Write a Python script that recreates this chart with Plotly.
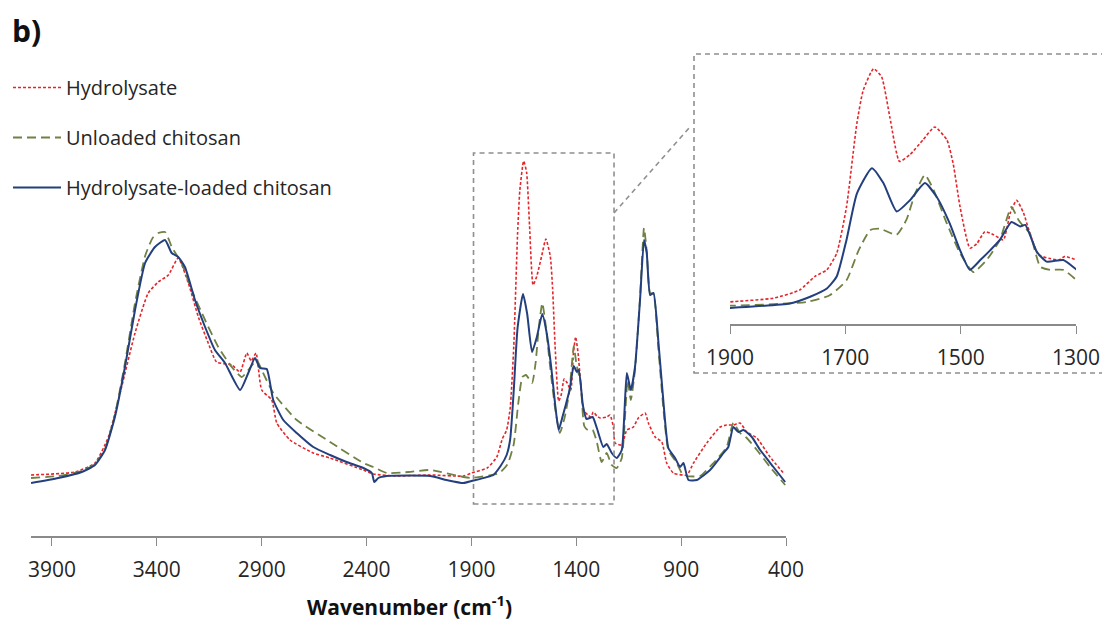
import plotly.graph_objects as go

# ---- data (wavenumber cm-1, absorbance in arbitrary units) ----
wn_hyd = [4000, 3790, 3695, 3631, 3568, 3504, 3441, 3393, 3345, 3298, 3250, 3202, 3155, 3115,
          3043, 3003, 2971, 2950, 2927, 2900, 2852, 2828, 2765, 2654, 2574, 2415, 2368, 2256,
          2097, 1938, 1900, 1825, 1779, 1753, 1732, 1715, 1698, 1680, 1669, 1651, 1637, 1623,
          1606, 1588, 1565, 1545, 1524, 1513, 1501, 1484, 1472, 1458, 1443, 1426, 1414, 1403,
          1391, 1380, 1365, 1345, 1330, 1319, 1302, 1287, 1255, 1239, 1223, 1215, 1183, 1159,
          1128, 1104, 1072, 1056, 1024, 992, 969, 937, 873, 841, 778, 714, 683, 651, 619, 587,
          539, 476, 412]
abs_hyd = [81, 84, 93, 119, 169, 223, 263, 274, 281, 298, 273, 239, 213, 194,
           191, 184, 203, 195, 203, 166, 156, 133, 116, 103, 98, 86, 82, 80,
           81, 80, 83, 88, 99, 117, 126, 148, 210, 322, 366, 395, 384, 331,
           271, 280, 300, 317, 300, 268, 210, 155, 161, 177, 173, 166, 202, 219,
           202, 175, 146, 141, 139, 144, 140, 138, 139, 141, 129, 113, 111, 126,
           129, 138, 143, 133, 119, 114, 93, 83, 81, 93, 113, 129, 131, 131, 133, 124,
           118, 99, 83]

wn_unl = [4000, 3870, 3758, 3695, 3647, 3600, 3552, 3504, 3456, 3420, 3393, 3361, 3340, 3329,
          3282, 3234, 3170, 3107, 3043, 2995, 2960, 2924, 2900, 2845, 2733, 2574, 2415, 2368,
          2304, 2200, 2097, 1938, 1900, 1767, 1727, 1698, 1677, 1657, 1640, 1611, 1594, 1579,
          1562, 1547, 1524, 1501, 1478, 1455, 1432, 1412, 1400, 1391, 1380, 1362, 1345, 1322,
          1302, 1279, 1255, 1231, 1207, 1183, 1155, 1140, 1120, 1096, 1077, 1064, 1048, 1032,
          1008, 984, 961, 921, 897, 873, 810, 746, 683, 651, 619, 587, 539, 476, 404]
abs_unl = [78, 80, 85, 92, 107, 141, 193, 253, 300, 318, 323, 324, 315, 309,
           293, 266, 236, 209, 189, 179, 187, 196, 186, 163, 136, 114, 93, 89,
           83, 84, 86, 79, 78, 83, 92, 112, 152, 179, 181, 173, 193, 228,
           253, 233, 188, 148, 123, 139, 166, 210, 193, 184, 175, 130, 126, 126,
           114, 94, 103, 91, 88, 98, 176, 156, 186, 258, 328, 305, 263, 262,
           206, 146, 106, 93, 83, 80, 80, 93, 109, 133, 123, 118, 106, 89, 71]

wn_load = [4000, 3870, 3758, 3695, 3647, 3600, 3552, 3504, 3456, 3409, 3361, 3329, 3298, 3266,
           3218, 3170, 3123, 3075, 3003, 2964, 2932, 2908, 2876, 2845, 2797, 2733, 2654, 2574,
           2495, 2415, 2375, 2363, 2344, 2304, 2097, 2018, 1938, 1900, 1796, 1761, 1732, 1715,
           1698, 1680, 1654, 1634, 1611, 1588, 1562, 1542, 1519, 1501, 1484, 1466, 1449, 1432,
           1412, 1397, 1388, 1368, 1351, 1322, 1302, 1271, 1255, 1231, 1207, 1183, 1159, 1140,
           1120, 1096, 1077, 1064, 1048, 1032, 1008, 984, 961, 929, 905, 889, 865, 825, 762,
           698, 675, 651, 627, 603, 563, 523, 460, 404]
abs_load = [73, 78, 84, 91, 106, 139, 189, 246, 293, 309, 316, 303, 299, 289,
            256, 229, 206, 193, 166, 183, 198, 188, 187, 156, 136, 123, 109, 101,
            94, 88, 83, 74, 78, 80, 80, 76, 73, 75, 81, 90, 101, 117,
            166, 228, 262, 242, 204, 219, 242, 224, 188, 152, 126, 139, 152, 166,
            190, 184, 186, 150, 137, 139, 128, 109, 112, 103, 98, 106, 183, 166,
            189, 256, 316, 303, 261, 263, 213, 153, 108, 98, 89, 93, 76, 76, 86,
            103, 109, 129, 124, 126, 119, 106, 89, 74]

names = ["Hydrolysate", "Unloaded chitosan", "Hydrolysate-loaded chitosan"]
main_ticks = [3900, 3400, 2900, 2400, 1900, 1400, 900, 400]
inset_ticks = [1900, 1700, 1500, 1300]

# ---- styles / layout geometry ----
OFF = 8                      # page body margin of the generated html
W, H = 1110 - OFF, 621 - OFF
FONT = "Open Sans"
styles = [
    dict(color="#e3262b", width=1.6, dash="3px,2px"),
    dict(color="#6f8143", width=1.8, dash="9px,5px"),
    dict(color="#233f7d", width=2.0),
]
series = [(wn_hyd, abs_hyd), (wn_unl, abs_unl), (wn_load, abs_load)]

fig = go.Figure()
for (x, y), nm, st in zip(series, names, styles):
    fig.add_trace(go.Scatter(x=x, y=y, mode="lines", name=nm,
                             line=dict(**st, shape="spline", smoothing=0.5),
                             legendgroup=nm, xaxis="x", yaxis="y"))
for (x, y), nm, st in zip(series, names, styles):
    fig.add_trace(go.Scatter(x=x, y=y, mode="lines", name=nm,
                             line=dict(**st, shape="spline", smoothing=0.5),
                             legendgroup=nm, showlegend=False, xaxis="x2", yaxis="y2"))


def px(v):
    return (v - OFF) / W


def py(v):
    return 1 - (v - OFF) / H


axis_col = "#8a8a8a"
tickfont = dict(family=FONT, size=21, color="#262626")

fig.update_layout(
    width=W, height=H,
    margin=dict(l=0, r=0, t=0, b=0, pad=0, autoexpand=False),
    paper_bgcolor="white", plot_bgcolor="rgba(0,0,0,0)",
    showlegend=True,
    legend=dict(x=px(8), y=py(68), xanchor="left", yanchor="top",
                font=dict(family=FONT, size=20, color="#262626"),
                tracegroupgap=21, bgcolor="rgba(0,0,0,0)", itemwidth=48),
    xaxis=dict(domain=[px(31), px(786)], range=[4000, 400], tickvals=main_ticks,
               showline=True, linecolor=axis_col, linewidth=1.5, ticks="outside",
               tickcolor=axis_col, ticklen=8, tickwidth=1.3, showgrid=False, zeroline=False,
               tickfont=tickfont, ticklabelstandoff=6, automargin=False),
    yaxis=dict(domain=[py(536), py(100)], range=[20, 456], visible=False, automargin=False),
    xaxis2=dict(domain=[px(730), px(1076)], range=[1900, 1300], tickvals=inset_ticks,
                showline=True, linecolor=axis_col, linewidth=1.5, ticks="outside",
                tickcolor=axis_col, ticklen=8, tickwidth=1.3, showgrid=False, zeroline=False,
                tickfont=tickfont, anchor="y2", ticklabelstandoff=6, automargin=False),
    yaxis2=dict(domain=[py(324), py(60)], range=[(364 - 324) / 0.7476, (364 - 60) / 0.7476],
                visible=False, anchor="x2", automargin=False),
)

box_line = dict(color="#8f8f8f", width=1.6, dash="5px,4px")
fig.add_shape(type="rect", xref="x", yref="y", x0=1890, x1=1220, y0=52, y1=403, line=box_line)
fig.add_shape(type="rect", xref="paper", yref="paper", x0=px(694), x1=px(1105), y0=py(373), y1=py(54),
              line=box_line)
fig.add_shape(type="line", xref="paper", yref="paper", x0=px(614), y0=py(213), x1=px(690), y1=py(127),
              line=box_line)

fig.add_annotation(text="<b>b)</b>", xref="paper", yref="paper", x=px(10), y=py(30),
                   xanchor="left", yanchor="middle", showarrow=False,
                   font=dict(family=FONT, size=30, color="#111111"))
fig.add_annotation(text="<b>Wavenumber (cm<sup>-1</sup>)</b>", xref="paper", yref="paper",
                   x=px(409), y=py(605), xanchor="center", yanchor="middle", showarrow=False,
                   font=dict(family=FONT, size=21, color="#111111"))

fig.write_html("out.html")
